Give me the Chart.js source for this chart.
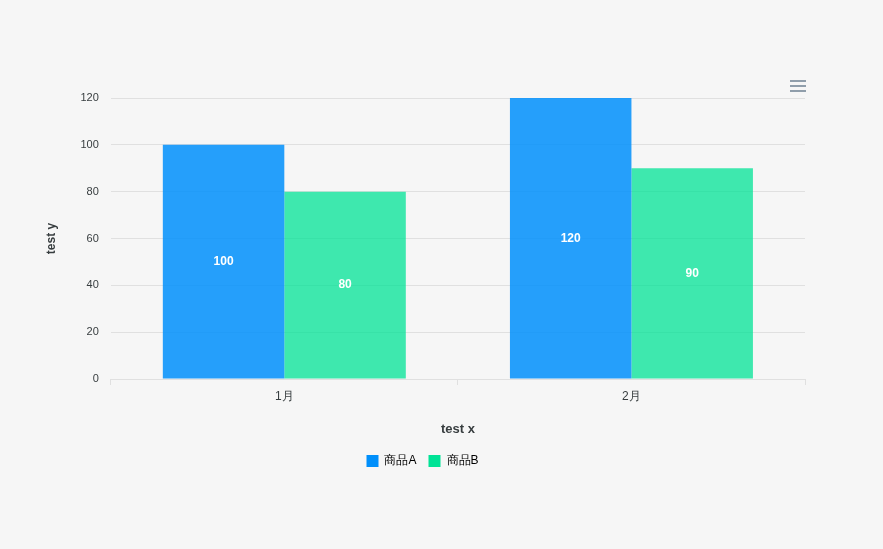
<!DOCTYPE html>
<html>
<head>
<meta charset="utf-8">
<script src="https://cdn.jsdelivr.net/npm/chart.js@4"></script>
<style>
  html, body { margin: 0; background: #f6f6f6; }
  #wrap { width: 883px; height: 549px; }
</style>
</head>
<body>
<div id="wrap"><canvas id="c"></canvas></div>
<script>
const categories = ["1月", "2月"];
const seriesA = [100, 120];
const seriesB = [80, 90];
const yTicks = [0, 20, 40, 60, 80, 100, 120];

const FONT = "'Liberation Sans', Arial, sans-serif";

// white value labels centred in each bar, plus the little menu icon
const extras = {
    id: "extras",
    afterDatasetsDraw(chart) {
        const ctx = chart.ctx;
        ctx.save();
        ctx.fillStyle = "#fff";
        ctx.font = "bold 12px " + FONT;
        ctx.textAlign = "center";
        ctx.textBaseline = "middle";
        chart.data.datasets.forEach((ds, i) => {
            chart.getDatasetMeta(i).data.forEach((bar, j) => {
                ctx.fillText(ds.data[j], bar.x, (bar.y + bar.base) / 2);
            });
        });
        ctx.strokeStyle = "#6e8192";
        ctx.lineWidth = 1.5;
        for (let k = 0; k < 3; k++) {
            ctx.beginPath();
            ctx.moveTo(790, 81 + k * 5);
            ctx.lineTo(806, 81 + k * 5);
            ctx.stroke();
        }
        ctx.restore();
    }
};

new Chart(document.getElementById("c"), {
    type: "bar",
    data: {
        labels: categories,
        datasets: [
            { label: "商品A", data: seriesA, backgroundColor: "rgba(0,143,251,0.85)" },
            { label: "商品B", data: seriesB, backgroundColor: "rgba(0,227,150,0.75)" }
        ]
    },
    options: {
        responsive: true,
        maintainAspectRatio: false,
        animation: false,
        datasets: { bar: { categoryPercentage: 0.7, barPercentage: 1.0 } },
        layout: { padding: { top: 98, left: 40, right: 78, bottom: 72 } },
        plugins: {
            tooltip: { enabled: false },
            legend: {
                position: "bottom",
                labels: {
                    boxWidth: 12, boxHeight: 12, padding: 12,
                    color: "#373d3f",
                    font: { family: FONT, size: 12 },
                    generateLabels(chart) {
                        const solid = ["#008FFB", "#00E396"];
                        return chart.data.datasets.map((ds, i) => ({
                            text: ds.label, fillStyle: solid[i], strokeStyle: solid[i],
                            lineWidth: 0, datasetIndex: i
                        }));
                    }
                }
            }
        },
        scales: {
            x: {
                grid: { offset: true, drawOnChartArea: false, drawTicks: true, tickLength: 6, color: "#e0e0e0" },
                border: { color: "#e0e0e0" },
                ticks: { color: "#373d3f", font: { family: FONT, size: 12 }, padding: 4 },
                title: { display: true, text: "test x", color: "#373d3f", font: { family: FONT, size: 13, weight: "bold" }, padding: { top: 14, bottom: 6 } }
            },
            y: {
                min: 0, max: 120,
                afterBuildTicks(axis) { axis.ticks = yTicks.map(v => ({ value: v })); },
                grid: { color: "#e0e0e0", drawTicks: false },
                border: { display: false },
                ticks: { color: "#373d3f", font: { family: FONT, size: 11 }, padding: 12 },
                title: { display: true, text: "test y", color: "#373d3f", font: { family: FONT, size: 12, weight: "bold" }, padding: { bottom: 10 } }
            }
        }
    },
    plugins: [extras]
});
</script>
</body>
</html>
